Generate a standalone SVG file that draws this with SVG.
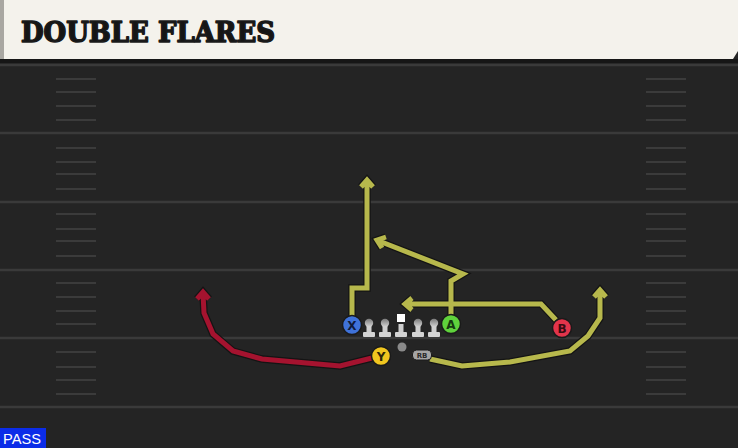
<svg xmlns="http://www.w3.org/2000/svg" width="738" height="448" viewBox="0 0 738 448">
  <defs>
    <style>
      .yard { stroke: #3a3a3a; stroke-width: 2.5; }
      .hash { stroke: #3b3b3b; stroke-width: 2; }
      .under { fill: none; stroke: #141414; stroke-width: 7.5; stroke-linejoin: miter; stroke-linecap: butt; }
      .route { fill: none; stroke: #b7b84c; stroke-width: 5; stroke-linejoin: miter; stroke-linecap: butt; }
      .red { stroke: #a5132f; }
      .label { font-family: "DejaVu Sans", "Liberation Sans", sans-serif; font-weight: bold; text-anchor: middle; }
      .pc { stroke: #1a1a1a; stroke-width: 1.5; }
    </style>
    <linearGradient id="head" x1="0" y1="0" x2="0" y2="1">
      <stop offset="0" stop-color="#7a7a7a"/>
      <stop offset="1" stop-color="#d8d8d8"/>
    </linearGradient>
    <g id="peg">
      <rect x="-2.5" y="324" width="5" height="10" fill="#cfcfcf"/>
      <rect x="-6" y="332" width="12" height="5" rx="1" fill="#d4d4d4"/>
    </g>
  </defs>

  <!-- field -->
  <rect x="0" y="0" width="738" height="448" fill="#242424"/>
  <rect x="0" y="59" width="738" height="4" fill="#161616"/>
  <g id="yardlines">
    <line class="yard" x1="0" y1="65" x2="738" y2="65"/>
    <line class="yard" x1="0" y1="133" x2="738" y2="133"/>
    <line class="yard" x1="0" y1="202" x2="738" y2="202"/>
    <line class="yard" x1="0" y1="270" x2="738" y2="270"/>
    <line class="yard" x1="0" y1="338" x2="738" y2="338"/>
    <line class="yard" x1="0" y1="407" x2="738" y2="407"/>
  </g>
  <g id="hashes">
    <path class="hash" d="M56,79H96M56,92H96M56,106H96M56,120H96M56,148H96M56,162H96M56,174H96M56,189H96M56,214H96M56,229H96M56,241H96M56,256H96M56,283H96M56,297H96M56,311H96M56,324H96M56,352H96M56,367H96M56,380H96M56,394H96"/>
    <path class="hash" d="M646,79H686M646,92H686M646,106H686M646,120H686M646,148H686M646,162H686M646,174H686M646,189H686M646,214H686M646,229H686M646,241H686M646,256H686M646,283H686M646,297H686M646,311H686M646,324H686M646,352H686M646,367H686M646,380H686M646,394H686"/>
  </g>

  <!-- header -->
  <g id="header">
    <rect x="0" y="0" width="4" height="59" fill="#a9a7a2"/>
    <path d="M4,0H738V51L733,59H4Z" fill="#f4f2ec"/>
    <text x="21" y="42" font-family="'DejaVu Serif', 'Liberation Serif', serif" font-weight="bold" font-size="27" textLength="254" lengthAdjust="spacingAndGlyphs" fill="#151515" stroke="#1a1a1a" stroke-width="1.6" stroke-linejoin="round">DOUBLE FLARES</text>
  </g>

  <!-- routes -->
  <g id="connectors">
    <path class="under" d="M352,316V288H367V181M361,187L367,180L373,187"/>
    <path class="under" d="M451,315V281L463,274L379,241M382,248L377,240L386,237"/>
    <path class="under" d="M556,320L541,304H407M412,298L405,304L412,310"/>
    <path class="under" d="M430,359L462,366L510,362L570,351L588,336L600,318V291M594,297L600,290L606,297"/>
    <path class="under" d="M372,358L340,366L262,359L233,351L213,334L204,313L203,293M197,299L203,292L209,299"/>
    <path class="route" d="M352,316V288H367V181M361,187L367,180L373,187"/>
    <path class="route" d="M451,315V281L463,274L379,241M382,248L377,240L386,237"/>
    <path class="route" d="M556,320L541,304H407M412,298L405,304L412,310"/>
    <path class="route" d="M430,359L462,366L510,362L570,351L588,336L600,318V291M594,297L600,290L606,297"/>
    <path class="route red" d="M372,358L340,366L262,359L233,351L213,334L204,313L203,293M197,299L203,292L209,299"/>
  </g>

  <!-- linemen -->
  <g id="LT"><use href="#peg" x="369"/><circle cx="369" cy="323" r="4.2" fill="url(#head)"/></g>
  <g id="LG"><use href="#peg" x="385"/><circle cx="385" cy="323" r="4.2" fill="url(#head)"/></g>
  <g id="C"><use href="#peg" x="401"/><rect x="397" y="314" width="8" height="8" fill="#ffffff"/></g>
  <g id="RG"><use href="#peg" x="418"/><circle cx="418" cy="323" r="4.2" fill="url(#head)"/></g>
  <g id="RT"><use href="#peg" x="434"/><circle cx="434" cy="323" r="4.2" fill="url(#head)"/></g>

  <g id="QB"><circle cx="402" cy="347" r="4.5" fill="#8a8a8a"/></g>

  <g id="RB">
    <rect x="412.5" y="350" width="19" height="10" rx="4" fill="#a5a5a5" stroke="#1a1a1a" stroke-width="1"/>
    <text x="422" y="358" class="label" font-size="7" fill="#2a2a2a">RB</text>
  </g>

  <g id="X">
    <circle class="pc" cx="352" cy="325" r="9.5" fill="#3f72d9"/>
    <text x="352" y="329.5" class="label" font-size="12" fill="#101a3a">X</text>
  </g>
  <g id="A">
    <circle class="pc" cx="451" cy="324" r="9.5" fill="#5fd23c"/>
    <text x="451" y="328.5" class="label" font-size="12" fill="#163a10">A</text>
  </g>
  <g id="B">
    <circle class="pc" cx="562" cy="328" r="9.5" fill="#e3344b"/>
    <text x="562" y="332.5" class="label" font-size="12" fill="#3a0c12">B</text>
  </g>
  <g id="Y">
    <circle class="pc" cx="381" cy="356" r="9.5" fill="#f1c61f"/>
    <text x="381" y="360.5" class="label" font-size="12" fill="#2e2608">Y</text>
  </g>

  <g id="pass">
    <rect x="0" y="428" width="46" height="20" fill="#0b2ce8"/>
    <text x="3" y="444" font-family="'Liberation Sans', Arial, sans-serif" font-size="15" textLength="38" lengthAdjust="spacingAndGlyphs" fill="#ffffff">PASS</text>
  </g>
</svg>
